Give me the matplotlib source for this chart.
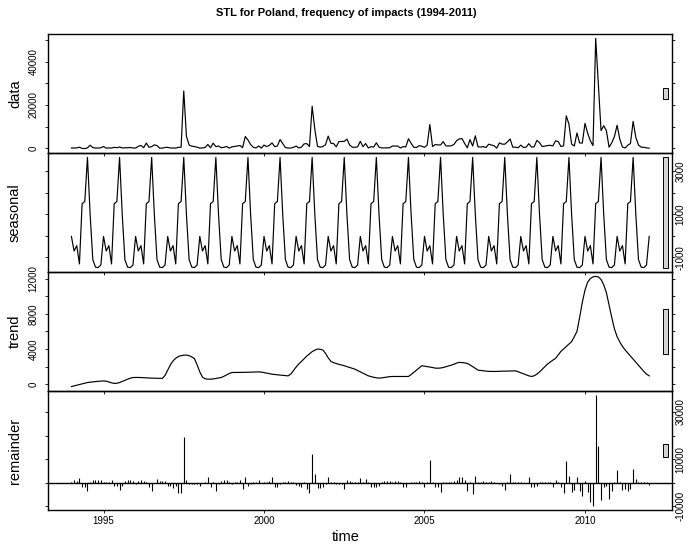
import numpy as np
import matplotlib
matplotlib.use("Agg")
import matplotlib.pyplot as plt
from matplotlib.patches import Rectangle

plt.rcParams["font.family"] = ["Liberation Sans", "DejaVu Sans"]

START_YEAR = 1994
N_MONTHS = 217          # Jan 1994 .. Jan 2012

# one seasonal cycle, Jan..Dec
SEASONAL_CYCLE = [-20, -700, -450, -1300, 1500, 1600, 3650, 1000, -1100, -1450, -1470, -1350]

TREND = [
    -270, -190, -110, -40, 40, 110, 190, 230, 270, 300, 330, 360,            # 1994
    380, 340, 260, 160, 90, 110, 190, 310, 440, 570, 680, 760,               # 1995
    770, 770, 760, 740, 720, 700, 690, 680, 670, 660, 660, 1000,             # 1996
    1600, 2200, 2650, 2950, 3150, 3250, 3300, 3310, 3250, 3100, 2900, 2200,  # 1997
    1400, 800, 620, 580, 570, 600, 660, 710, 760, 900, 1060, 1220,           # 1998
    1330, 1340, 1340, 1340, 1340, 1350, 1360, 1370, 1380, 1390, 1400, 1380,  # 1999
    1320, 1260, 1200, 1140, 1100, 1070, 1040, 1010, 980, 950, 1150, 1550,    # 2000
    1950, 2300, 2590, 2900, 3200, 3450, 3700, 3870, 4000, 3970, 3890, 3500,  # 2001
    3000, 2600, 2450, 2350, 2260, 2180, 2100, 2000, 1900, 1800, 1710, 1560,  # 2002
    1400, 1250, 1100, 950, 870, 790, 730, 690, 720, 770, 820, 860,           # 2003
    880, 880, 880, 880, 880, 880, 880, 1100, 1350, 1600, 1850, 2100,         # 2004
    2050, 2000, 1950, 1900, 1830, 1820, 1840, 1900, 1980, 2070, 2170, 2270,  # 2005
    2400, 2480, 2460, 2420, 2360, 2200, 2000, 1800, 1600, 1560, 1520, 1490,  # 2006
    1460, 1450, 1450, 1460, 1470, 1480, 1490, 1500, 1510, 1515, 1520, 1420,  # 2007
    1300, 1180, 1060, 950, 880, 960, 1140, 1400, 1700, 2000, 2290, 2520,     # 2008
    2740, 2930, 3330, 3730, 4010, 4290, 4560, 4840, 5400, 6000, 7600, 9300,  # 2009
    10700, 11600, 12000, 12200, 12250, 12200, 11900, 11300, 10400, 9000, 7600, 6300,  # 2010
    5400, 4800, 4300, 3900, 3550, 3200, 2850, 2500, 2150, 1800, 1450, 1150,  # 2011
    950,                                                                     # 2012
]

REMAINDER = [
    400, 950, 700, 1800, -1650, -1900, -3700, 150, 1100, 1200, 1200, 1200,
    400, 400, 300, 1200, -1200, -1500, -3300, -1200, 800, 1100, 1100, 700,
    -700, 800, 950, 800, 150, -1900, -3600, -150, 1650, 800, 850, 700,
    -1200, -1400, -2100, -1600, -4250, -4400, 19500, 1200, -700, -700, -700, -400,
    -1350, 0, 150, 2450, -1900, 150, -3600, -700, 550, 950, 1200, 150,
    -700, 150, 150, 1200, -2600, 2450, -1200, -700, 150, 150, 1100, 0,
    150, 150, 550, 2600, -1900, -1650, -700, 150, 400, 550, 400, 150,
    -950, -1500, -1650, 400, -2600, -4250, 12050, 3850, -2050, -2050, -1650, -550,
    2600, 400, 150, -400, -700, -700, -2600, 1200, 700, 150, 150, 400,
    1800, 150, 1500, 450, -1650, -1900, -1900, -1200, 500, 800, 800, 700,
    150, 800, 550, 500, -1650, -1900, -150, 150, 150, 150, 800, 150,
    -1650, 150, 9450, 150, -1650, -1900, -4000, 150, 150, 400, 400, 800,
    1100, 2450, 2450, 1100, -3700, 150, -4650, 2900, 150, 400, 700, 150,
    400, 700, 150, -150, -550, -1200, -3300, 400, 3850, 400, 400, 150,
    150, -150, -150, 2450, -1900, -1900, -1200, 150, 150, 400, 400, 150,
    -1650, 1200, 150, -1650, -4400, 9050, 2900, -4000, -3300, 2450, -3700, -5600,
    800, -4000, -8100, -9700, 37000, 15600, -7400, -1900, -1200, -7100, -3700, 400,
    5200, 150, -3300, -2500, -3700, -2600, 5900, 1500, 400, 150, 400, 350,
    -900,
]

PANEL_NAMES = ["data", "seasonal", "trend", "remainder"]
TICKS = [
    [0, 10000, 20000, 30000, 40000, 50000],
    [-1000, 0, 1000, 2000, 3000],
    [0, 2000, 4000, 6000, 8000, 10000, 12000],
    [-10000, 0, 10000, 20000, 30000],
]
SHOWN = [
    ["0", "", "20000", "", "40000", ""],
    ["-1000", "", "1000", "", "3000"],
    ["0", "", "4000", "", "8000", "", "12000"],
    ["-10000", "", "10000", "", "30000"],
]
YEAR_TICKS = [1995, 2000, 2005, 2010]

time = START_YEAR + np.arange(N_MONTHS) / 12.0
seasonal = np.resize(np.array(SEASONAL_CYCLE, float), N_MONTHS)
trend = np.array(TREND, float)
remainder = np.array(REMAINDER, float)
data = seasonal + trend + remainder
series = [data, seasonal, trend, remainder]

W, H = 692, 544
fig = plt.figure(figsize=(W / 100, H / 100), dpi=100)
fig.patch.set_facecolor("white")

LEFT, RIGHT = 48.3, 672.3
EDGES = [34, 153, 272, 391, 510]

span = time[-1] - time[0]
xlo, xhi = time[0] - 0.04 * span, time[-1] + 0.04 * span
bar_h = min(np.ptp(s) for s in series)   # range bars share the smallest range

for i, (name, y) in enumerate(zip(PANEL_NAMES, series)):
    top, bot = EDGES[i], EDGES[i + 1]
    ax = fig.add_axes([LEFT / W, 1 - bot / H, (RIGHT - LEFT) / W, (bot - top) / H])
    ax.set_facecolor("none")
    last = i == len(series) - 1
    if last:
        ax.vlines(time, 0, y, color="black", lw=0.8)
        ax.axhline(0, color="black", lw=1.0)
    else:
        ax.plot(time, y, color="black", lw=0.85)
    ylo, yhi = y.min(), y.max()
    r = yhi - ylo
    ax.set_ylim(ylo - 0.04 * r, yhi + 0.04 * r)
    ax.set_xlim(xlo, xhi)

    # range bar at the right edge
    dx = (xhi - xlo) / 64
    ymid = (ylo + yhi) / 2
    ax.add_patch(Rectangle((xhi - dx, ymid - bar_h / 2), 0.6 * dx, bar_h,
                           facecolor="#d3d3d3", edgecolor="black", lw=0.7, clip_on=False, zorder=3))

    for sp in ax.spines.values():
        sp.set_linewidth(1.0)

    right = i % 2 == 1
    ax.set_yticks(TICKS[i])
    ax.set_yticklabels(SHOWN[i])
    ax.tick_params(axis="y", left=True, right=True, labelleft=not right, labelright=right,
                   direction="out", length=2, width=0.6, labelsize=7,
                   pad=0.3 if right else 5)
    for lbl in ax.get_yticklabels():
        lbl.set_rotation(90)
        lbl.set_va("center")
    ax.set_xticks(YEAR_TICKS)
    ax.tick_params(axis="x", direction="out", length=2, width=0.6, labelsize=7, pad=2.3,
                   labelbottom=last)
    fig.text(15 / W, 1 - (top + bot) / 2 / H, name, rotation=90, ha="center", va="center",
             fontsize=10.5)

fig.text(0.5, 1 - 13 / H, "STL for Poland, frequency of impacts (1994-2011)",
         ha="center", va="center", fontsize=8, fontweight="bold",
         family=["Liberation Sans Narrow", "Liberation Sans", "DejaVu Sans"])
fig.text(0.5, 1 - 537 / H, "time", ha="center", va="center", fontsize=10.5)

fig.savefig("out.png", dpi=100, facecolor="white")
